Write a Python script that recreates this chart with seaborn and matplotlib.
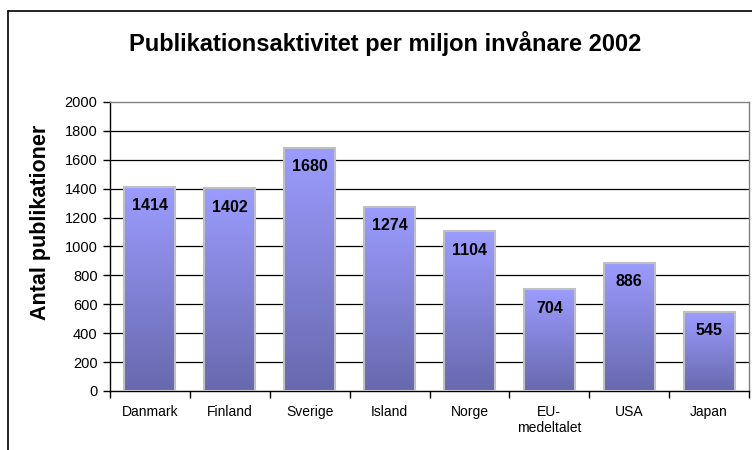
import numpy as np
import matplotlib
matplotlib.use("Agg")
import matplotlib.pyplot as plt
import seaborn as sns
from matplotlib.colors import LinearSegmentedColormap
from matplotlib.lines import Line2D

categories = ["Danmark", "Finland", "Sverige", "Island", "Norge", "EU-\nmedeltalet", "USA", "Japan"]
values = [1414, 1402, 1680, 1274, 1104, 704, 886, 545]
yticks = [0, 200, 400, 600, 800, 1000, 1200, 1400, 1600, 1800, 2000]
title = "Publikationsaktivitet per miljon invånare 2002"
ylabel = "Antal publikationer"

sns.set_theme(style="white")
plt.rcParams['font.family'] = ['Liberation Sans', 'DejaVu Sans']
plt.rcParams['text.color'] = 'black'
plt.rcParams['axes.labelcolor'] = 'black'
plt.rcParams['xtick.color'] = 'black'
plt.rcParams['ytick.color'] = 'black'

fig = plt.figure(figsize=(7.52, 4.5), dpi=100)
ax = fig.add_axes([110/752, 59/450, (749-110)/752, (391-102)/450])

sns.barplot(x=categories, y=values, width=0.64, color="#9999ff", ax=ax,
            edgecolor="#c0c0c0", linewidth=1.5, zorder=3)

ax.set_ylim(0, 2000)
ax.set_xlim(-0.5, len(categories) - 0.5)
xl, yl = ax.get_xlim(), ax.get_ylim()

cmap = LinearSegmentedColormap.from_list("g", ["#6868ae", "#9c9cff"])
grad = np.linspace(0, 1, 256).reshape(-1, 1)
for p in ax.patches:
    x0, y0, w, h = p.get_x(), p.get_y(), p.get_width(), p.get_height()
    im = ax.imshow(grad, extent=[x0, x0 + w, y0, y0 + h], origin="lower",
                   aspect="auto", cmap=cmap, zorder=2.9)
    im.set_clip_path(p)
    p.set_facecolor("none")
ax.set_xlim(xl)
ax.set_ylim(yl)

for i, v in enumerate(values):
    ax.annotate(str(v), (i, v), xytext=(0, -13.5), textcoords="offset points",
                ha="center", va="center", fontweight="bold", fontsize=11.5,
                color="black", zorder=5)

ax.set_yticks(yticks)
ax.set_yticklabels([str(t) for t in yticks], fontsize=10.5)
ax.set_xticks(range(len(categories)))
ax.set_xticklabels(categories, fontsize=10)
ax.set_xticks(np.arange(-0.5, len(categories)), minor=True)
ax.tick_params(axis="x", which="major", length=0, pad=10)
ax.tick_params(axis="x", which="minor", length=5, width=1, color="black", direction="out", bottom=True)
ax.tick_params(axis="y", length=5, width=1, color="black", direction="out", left=True, pad=4)
for t in yticks[1:-1]:
    ax.axhline(t, color="black", lw=0.9, zorder=1)

ax.set_xlabel("")
ax.set_ylabel(ylabel, fontsize=15.5, fontweight="bold", va="center", ha="center")
ax.yaxis.set_label_coords((41 - 110) / 639, (391 - 222) / 289)

for s in ["left", "bottom"]:
    ax.spines[s].set_color("black")
    ax.spines[s].set_linewidth(1)
for s in ["top", "right"]:
    ax.spines[s].set_color("#808080")
    ax.spines[s].set_linewidth(1)
    ax.spines[s].set_visible(True)

fig.text(0.5 * (127 + 643) / 752, 1 - 43 / 450, title, ha="center", va="center",
         fontsize=17, fontweight="bold")

fig.add_artist(Line2D([8/752, 8/752], [0, 1 - 11/450], color="black", lw=1.2, transform=fig.transFigure))
fig.add_artist(Line2D([8/752, 1], [1 - 11/450, 1 - 11/450], color="black", lw=1.2, transform=fig.transFigure))

fig.savefig("out.png", dpi=100)
